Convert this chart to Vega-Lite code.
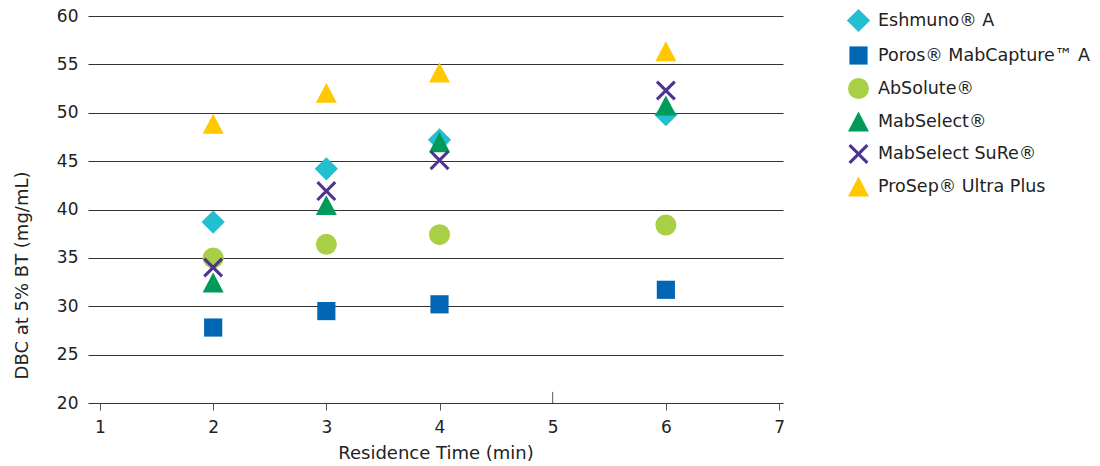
{
  "$schema": "https://vega.github.io/schema/vega-lite/v6.json",
  "width": 695,
  "height": 387,
  "autosize": {"type": "none"},
  "padding": {"left": 88, "top": 16, "right": 317, "bottom": 63},
  "background": "white",
  "config": {
    "font": "DejaVu Sans",
    "view": {"stroke": null}
  },
  "datasets": {
    "points": [
      {"rt": 2, "dbc": 38.7, "resin": "Eshmuno® A"},
      {"rt": 3, "dbc": 44.2, "resin": "Eshmuno® A"},
      {"rt": 4, "dbc": 47.2, "resin": "Eshmuno® A"},
      {"rt": 6, "dbc": 49.8, "resin": "Eshmuno® A"},
      {"rt": 2, "dbc": 27.8, "resin": "Poros® MabCapture™ A"},
      {"rt": 3, "dbc": 29.5, "resin": "Poros® MabCapture™ A"},
      {"rt": 4, "dbc": 30.2, "resin": "Poros® MabCapture™ A"},
      {"rt": 6, "dbc": 31.7, "resin": "Poros® MabCapture™ A"},
      {"rt": 2, "dbc": 35.0, "resin": "AbSolute®"},
      {"rt": 3, "dbc": 36.4, "resin": "AbSolute®"},
      {"rt": 4, "dbc": 37.4, "resin": "AbSolute®"},
      {"rt": 6, "dbc": 38.4, "resin": "AbSolute®"},
      {"rt": 2, "dbc": 32.4, "resin": "MabSelect®"},
      {"rt": 3, "dbc": 40.4, "resin": "MabSelect®"},
      {"rt": 4, "dbc": 46.9, "resin": "MabSelect®"},
      {"rt": 6, "dbc": 50.7, "resin": "MabSelect®"},
      {"rt": 2, "dbc": 34.0, "resin": "MabSelect SuRe®"},
      {"rt": 3, "dbc": 41.9, "resin": "MabSelect SuRe®"},
      {"rt": 4, "dbc": 45.1, "resin": "MabSelect SuRe®"},
      {"rt": 6, "dbc": 52.3, "resin": "MabSelect SuRe®"},
      {"rt": 2, "dbc": 48.8, "resin": "ProSep® Ultra Plus"},
      {"rt": 3, "dbc": 52.0, "resin": "ProSep® Ultra Plus"},
      {"rt": 4, "dbc": 54.1, "resin": "ProSep® Ultra Plus"},
      {"rt": 6, "dbc": 56.3, "resin": "ProSep® Ultra Plus"}
    ],
    "tick5": [{"rt": 5, "lo": 20, "hi": 21.15}]
  },
  "layer": [
    {
      "data": {"name": "tick5"},
      "mark": {"type": "rule", "color": "#555", "strokeWidth": 1},
      "encoding": {
        "x": {"field": "rt", "type": "quantitative"},
        "y": {"field": "lo", "type": "quantitative"},
        "y2": {"field": "hi"}
      }
    },
    {
      "data": {"name": "points"},
      "mark": {"type": "point", "filled": true, "opacity": 1},
      "encoding": {
        "x": {
          "field": "rt",
          "type": "quantitative",
          "scale": {"domain": [0.894, 7.035], "nice": false, "zero": false},
          "axis": {
            "values": [1, 2, 3, 4, 5, 6, 7],
            "format": "d",
            "title": "Residence Time (min)",
            "grid": false,
            "domain": false,
            "tickColor": {"condition": {"test": "datum.value === 5", "value": "transparent"}, "value": "#555"},
            "tickSize": 7,
            "labelFontSize": 17,
            "labelColor": "#222",
            "labelPadding": 9,
            "titleFontSize": 18,
            "titleFontWeight": "normal",
            "titleColor": "#222",
            "titlePadding": 9
          }
        },
        "y": {
          "field": "dbc",
          "type": "quantitative",
          "scale": {"domain": [20, 60], "nice": false, "zero": false},
          "axis": {
            "values": [20, 25, 30, 35, 40, 45, 50, 55, 60],
            "title": "DBC at 5% BT (mg/mL)",
            "grid": true,
            "gridColor": "#333",
            "gridWidth": 1.2,
            "gridOpacity": 1,
            "domain": false,
            "ticks": false,
            "labelFontSize": 17,
            "labelColor": "#222",
            "labelPadding": 10,
            "titleFontSize": 18,
            "titleFontWeight": "normal",
            "titleColor": "#222",
            "titleAnchor": null,
            "titleAngle": -90,
            "titleAlign": "center",
            "titleBaseline": "middle",
            "titleX": -66,
            "titleY": 259
          }
        },
        "color": {
          "field": "resin",
          "type": "nominal",
          "sort": ["Eshmuno® A", "Poros® MabCapture™ A", "AbSolute®", "MabSelect®", "MabSelect SuRe®", "ProSep® Ultra Plus"],
          "scale": {
            "domain": ["Eshmuno® A", "Poros® MabCapture™ A", "AbSolute®", "MabSelect®", "MabSelect SuRe®", "ProSep® Ultra Plus"],
            "range": ["#22BFD0", "#0066B3", "#A8CF45", "#009A5A", "#503291", "#FFC800"]
          },
          "legend": {
            "title": null,
            "orient": "none",
            "legendX": 758,
            "legendY": -8,
            "labelFontSize": 17.5,
            "labelColor": "#222",
            "labelLimit": 400,
            "rowPadding": 6.5,
            "labelOffset": 7,
            "symbolOpacity": 1
          }
        },
        "shape": {
          "field": "resin",
          "type": "nominal",
          "scale": {
            "domain": ["Eshmuno® A", "Poros® MabCapture™ A", "AbSolute®", "MabSelect®", "MabSelect SuRe®", "ProSep® Ultra Plus"],
            "range": ["diamond", "square", "circle", "M0,-1L1,0.9L-1,0.9Z", "M-0.78,-1L0,-0.22L0.78,-1L1,-0.78L0.22,0L1,0.78L0.78,1L0,0.22L-0.78,1L-1,0.78L-0.22,0L-1,-0.78Z", "M0,-1L1,0.9L-1,0.9Z"]
          }
        },
        "size": {
          "field": "resin",
          "type": "nominal",
          "scale": {
            "type": "ordinal",
            "domain": ["Eshmuno® A", "Poros® MabCapture™ A", "AbSolute®", "MabSelect®", "MabSelect SuRe®", "ProSep® Ultra Plus"],
            "range": [540, 330, 441, 441, 400, 441]
          }
        }
      }
    }
  ]
}
